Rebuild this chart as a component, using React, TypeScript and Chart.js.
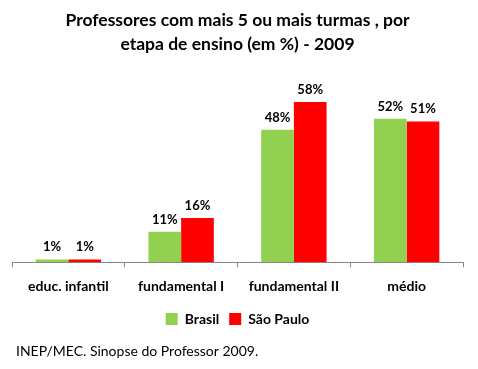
import React, { useEffect, useRef } from "react";
import { Chart, registerables } from "chart.js";

Chart.register(...registerables);

const categories = ["educ. infantil", "fundamental I", "fundamental II", "médio"];
const brasil = [1, 11, 48, 52];
const saoPaulo = [1, 16, 58, 51];
const seriesNames = ["Brasil", "São Paulo"];
const titleLines = ["Professores com mais 5 ou mais turmas , por", "etapa de ensino (em %) - 2009"];
const sourceText = "INEP/MEC. Sinopse do Professor 2009.";

const FONT = "Lato, 'Open Sans', sans-serif";

const labelPlugin = {
  id: "valueLabels",
  afterDatasetsDraw(chart: any) {
    const ctx = chart.ctx;
    ctx.save();
    ctx.font = `bold 13px ${FONT}`;
    ctx.fillStyle = "#000";
    ctx.textAlign = "center";
    ctx.textBaseline = "alphabetic";
    chart.data.datasets.forEach((ds: any, i: number) => {
      const meta = chart.getDatasetMeta(i);
      meta.data.forEach((el: any, j: number) => {
        ctx.fillText(`${ds.data[j]}%`, el.x, el.y - 8);
      });
    });
    ctx.restore();
  },
};

const sourcePlugin = {
  id: "sourceNote",
  afterDraw(chart: any) {
    const ctx = chart.ctx;
    ctx.save();
    ctx.font = `14px ${FONT}`;
    ctx.fillStyle = "#000";
    ctx.textAlign = "left";
    ctx.textBaseline = "middle";
    ctx.fillText(sourceText, 16, 351);
    ctx.restore();
  },
};

export default function App() {
  const ref = useRef<HTMLCanvasElement>(null);
  useEffect(() => {
    if (!ref.current) return;
    const chart = new Chart(ref.current, {
      type: "bar",
      data: {
        labels: categories,
        datasets: [
          {
            label: seriesNames[0],
            data: brasil,
            backgroundColor: "#92D050",
            categoryPercentage: 0.58,
            barPercentage: 1.0,
          },
          {
            label: seriesNames[1],
            data: saoPaulo,
            backgroundColor: "#FF0000",
            categoryPercentage: 0.58,
            barPercentage: 1.0,
          },
        ],
      },
      plugins: [labelPlugin, sourcePlugin],
      options: {
        responsive: false,
        animation: false,
        layout: { padding: { left: 12, right: 15, top: 0, bottom: 33 } },
        plugins: {
          title: {
            display: true,
            text: titleLines,
            color: "#000",
            font: { family: FONT, size: 17.5, weight: "bold", lineHeight: 1.37 },
            padding: { top: 8, bottom: 13 },
          },
          legend: {
            display: true,
            position: "bottom",
            labels: {
              color: "#000",
              font: { family: FONT, size: 14, weight: "bold" },
              boxWidth: 12,
              boxHeight: 12,
              padding: 10,
            },
          },
          tooltip: { enabled: false },
        },
        scales: {
          x: {
            grid: {
              display: true,
              drawOnChartArea: false,
              drawTicks: true,
              tickLength: 5,
              color: "#868686",
              offset: true,
            },
            border: { display: true, color: "#868686" },
            ticks: {
              color: "#000",
              font: { family: FONT, size: 14, weight: "bold" },
              padding: 11,
            },
            afterFit(scale: any) {
              scale.height -= 4;
            },
          },
          y: {
            display: false,
            min: 0,
            max: 70,
          },
        },
      },
    });
    return () => chart.destroy();
  }, []);
  return (
    <div style={{ position: "fixed", left: 0, top: 0, width: 478, height: 369, background: "#fff" }}>
      <canvas ref={ref} width={478} height={369} />
    </div>
  );
}
